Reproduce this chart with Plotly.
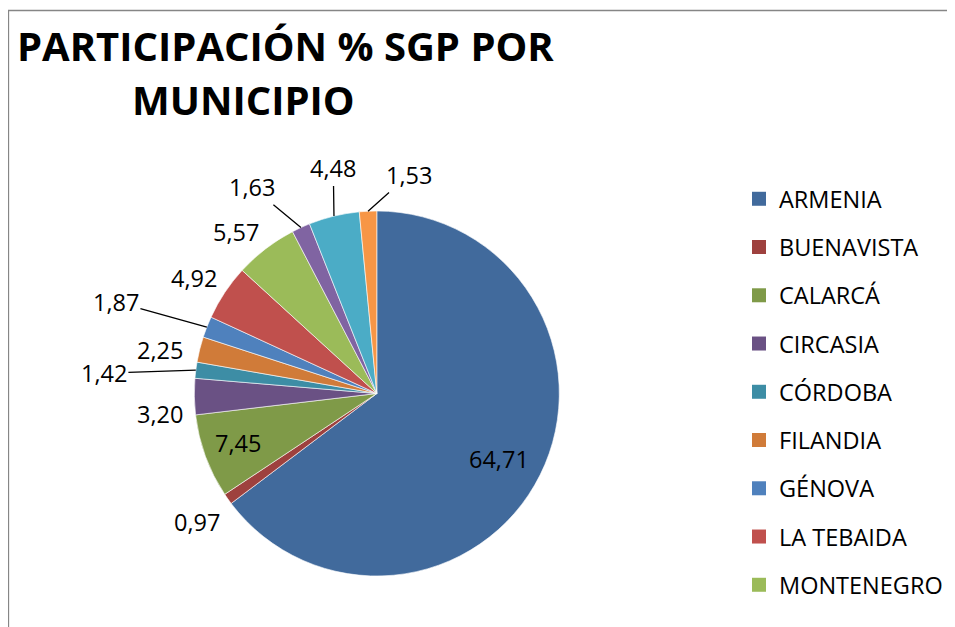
import math
import plotly.graph_objects as go

# ---- data ----
labels = ["ARMENIA", "BUENAVISTA", "CALARCÁ", "CIRCASIA", "CÓRDOBA", "FILANDIA",
          "GÉNOVA", "LA TEBAIDA", "MONTENEGRO", "PIJAO", "QUIMBAYA", "SALENTO"]
values = [64.71, 0.97, 7.45, 3.20, 1.42, 2.25, 1.87, 4.92, 5.57, 1.63, 4.48, 1.53]
colors = ["#416a9c", "#9e413e", "#7f9a48", "#6a5184", "#3d8da5", "#d07b39",
          "#4f81bd", "#c0504d", "#9bbb59", "#8064a2", "#4bacc6", "#f79646"]
legend_visible = 9   # the original legend only had room for nine entries
title_lines = ["PARTICIPACIÓN % SGP POR", "MUNICIPIO"]

# ---- label styling (distance from centre as a fraction of the radius, angle nudge) ----
label_r = [0.755, 1.205, 0.805, 1.193, 1.50, 1.214, 1.518, 1.19, 1.184, 1.327, 1.264, 1.218]
label_dtheta = [1.4, 0, 1.0, -4.1, -2.8, -2.1, -1.7, -1.0, -3.3, -6.4, 2.7, 11.0]
leader = [False, False, False, False, True, False, True, False, False, True, True, True]

# ---- geometry (page pixels; the page body has an 8px margin) ----
W, H = 955, 627
OFF = 8
CX, CY, R = 376.8, 393.5, 182.5
FONT = "Open Sans"
LABEL_SIZE = 23.5
TEXT_DY = 1.5


def px(v):
    return (v - OFF) / W


def py(v):
    return 1 - (v - OFF) / H


fig = go.Figure()
fig.add_trace(go.Pie(
    labels=labels, values=values, sort=False, direction="clockwise", rotation=0,
    marker=dict(colors=colors, line=dict(color="white", width=0.6)),
    textinfo="none",
    domain=dict(x=[px(CX - R), px(CX + R)], y=[py(CY + R), py(CY - R)]),
    showlegend=False, hoverinfo="label+value",
))

for lab, col in list(zip(labels, colors))[:legend_visible]:
    fig.add_trace(go.Scatter(
        x=[None], y=[None], mode="markers", name=lab, legendgroup=lab,
        marker=dict(symbol="square", size=14, color=col), hoverinfo="skip",
    ))

# data labels, placed from each slice's angle
annotations = []
total = sum(values)
cum = 0.0
for v, rf, dt, ld in zip(values, label_r, label_dtheta, leader):
    mid = math.radians(360 * (cum + v / 2) / total)
    th = math.radians(360 * (cum + v / 2) / total + dt)
    cum += v
    lx = CX + R * rf * math.sin(th)
    ly = CY - R * rf * math.cos(th) + TEXT_DY
    txt = f"{v:.2f}".replace(".", ",")
    if ld:
        ex = CX + R * math.sin(mid)
        ey = CY - R * math.cos(mid)
        annotations.append(dict(
            text=txt, x=px(ex), y=py(ey), xref="paper", yref="paper",
            ax=lx - ex, ay=ly - ey, showarrow=True, arrowhead=0, arrowwidth=1.3,
            arrowcolor="black", standoff=0,
            font=dict(family=FONT, size=LABEL_SIZE, color="black")))
    else:
        annotations.append(dict(
            text=txt, x=px(lx), y=py(ly), xref="paper", yref="paper",
            xanchor="center", yanchor="middle", showarrow=False,
            font=dict(family=FONT, size=LABEL_SIZE, color="black")))

annotations += [
    dict(text=f"<b>{title_lines[0]}</b>", x=px(285), y=py(46), xref="paper", yref="paper",
         xanchor="center", yanchor="middle", showarrow=False,
         font=dict(family=FONT, size=40, color="black")),
    dict(text=f"<b>{title_lines[1]}</b>", x=px(243), y=py(99), xref="paper", yref="paper",
         xanchor="center", yanchor="middle", showarrow=False,
         font=dict(family=FONT, size=40, color="black")),
]

fig.update_layout(
    width=W, height=H, margin=dict(l=0, r=0, t=0, b=0),
    paper_bgcolor="white", plot_bgcolor="white",
    separators=",.",
    xaxis=dict(visible=False), yaxis=dict(visible=False),
    legend=dict(x=px(739), y=py(177), xanchor="left", yanchor="top",
                font=dict(family=FONT, size=LABEL_SIZE, color="black"),
                tracegroupgap=14.7, itemwidth=30, bgcolor="rgba(0,0,0,0)"),
    font=dict(family=FONT),
    annotations=annotations,
    shapes=[dict(type="rect", xref="paper", yref="paper", x0=px(8.5), x1=1.03,
                 y0=-0.03, y1=py(10.5), line=dict(color="#868686", width=1.3))],
)

fig.write_html("out.html")
